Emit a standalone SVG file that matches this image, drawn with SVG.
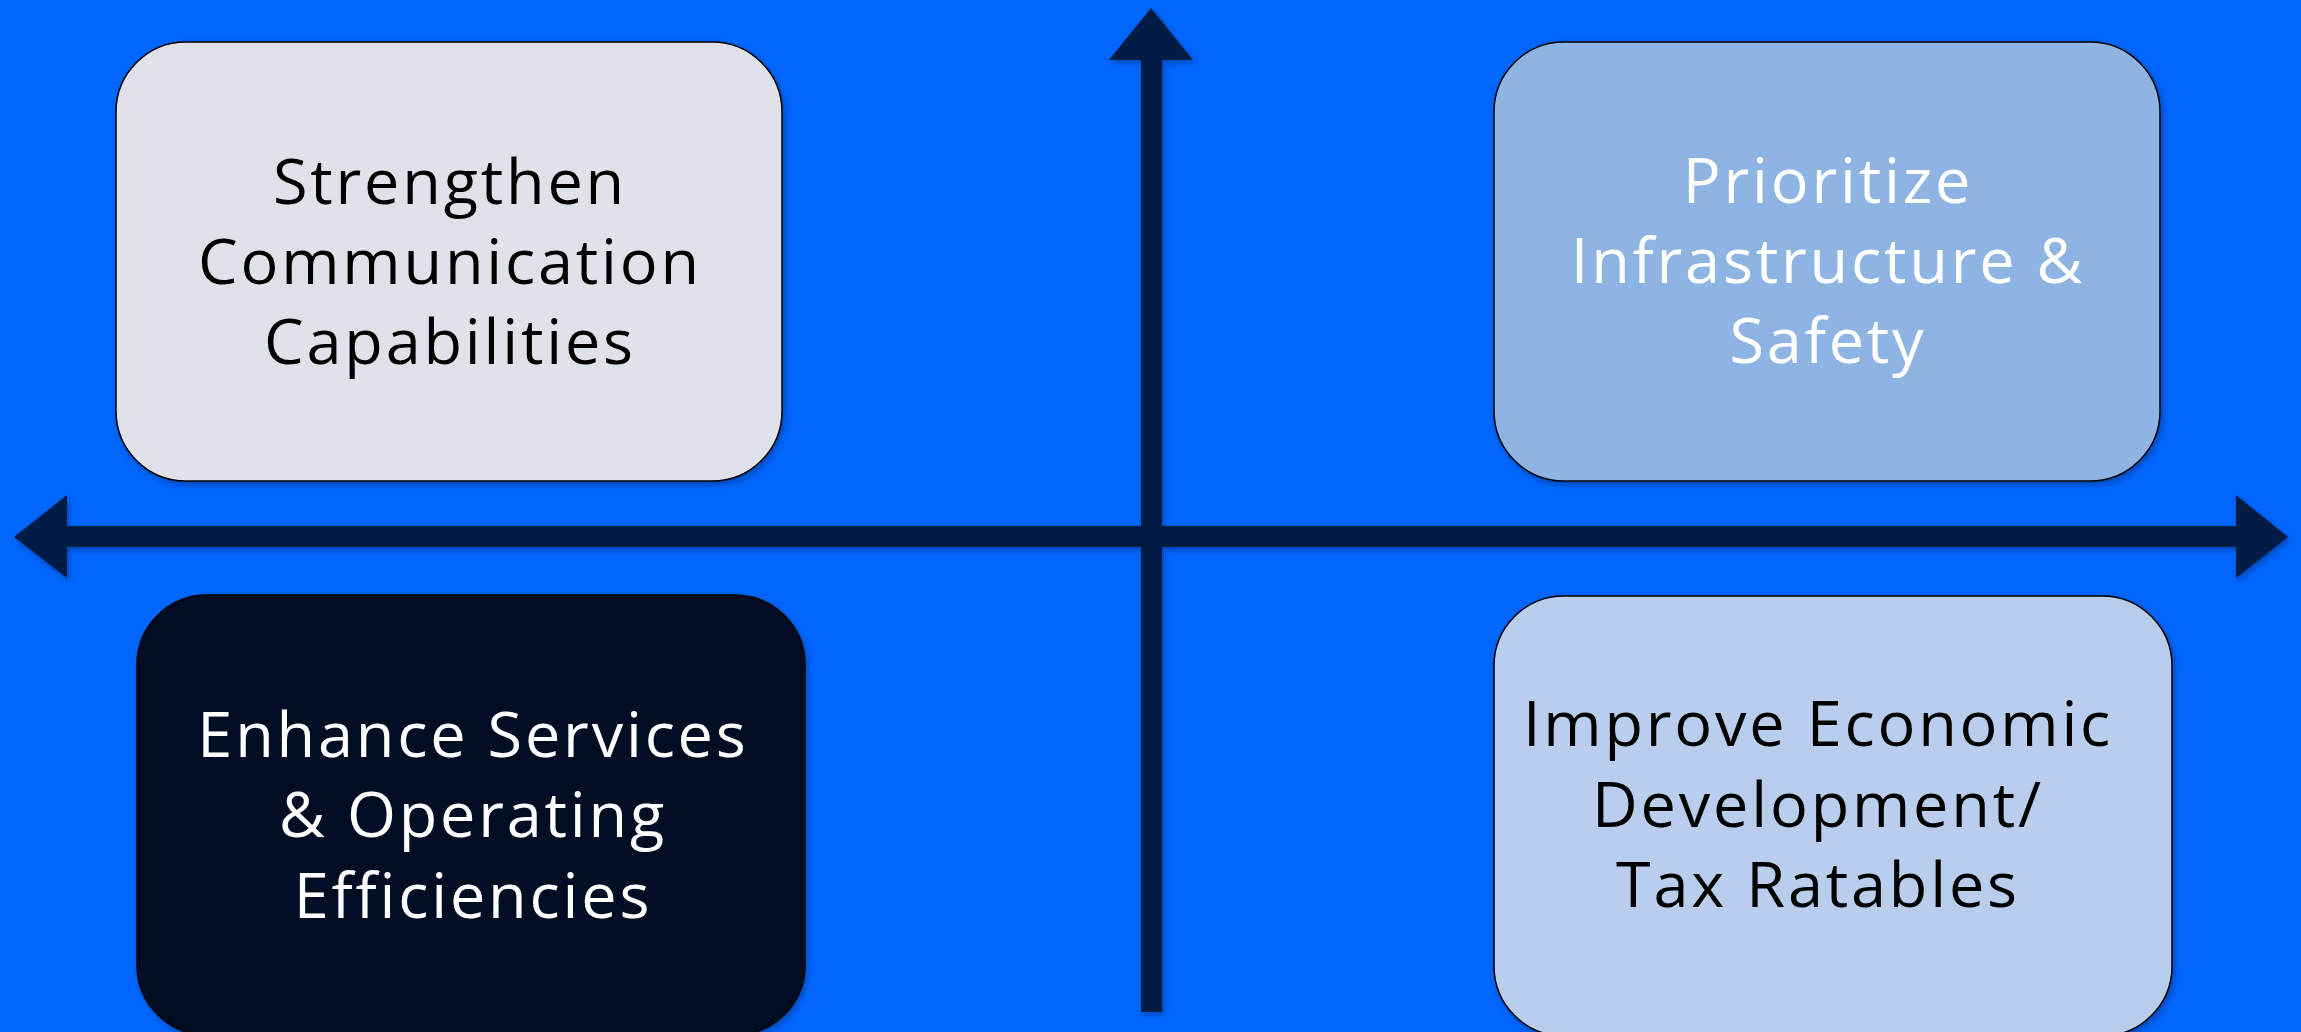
<svg xmlns="http://www.w3.org/2000/svg" width="2301" height="1032" viewBox="0 0 2301 1032">
<defs>
<style>
.box{stroke:#000;stroke-width:1.5}
.t{font-family:"Open Sans","Liberation Sans",sans-serif;font-size:63px;letter-spacing:2.8px;text-anchor:middle}
.dark{fill:#000}
.light{fill:#fff}
.axis{fill:#011C44}
</style>
<filter id="sh" x="-10%" y="-10%" width="120%" height="120%">
<feDropShadow dx="2" dy="3" stdDeviation="3" flood-color="#000" flood-opacity="0.3"/>
</filter>
</defs>
<rect width="2301" height="1032" fill="#0066FF"/>
<g id="connectors" filter="url(#sh)">
<polygon class="axis" points="1151,8 1193,60 1162,60 1162,1012 1141,1012 1141,60 1109,60"/>
<polygon class="axis" points="14,537 67,495 67,526 2236,526 2236,495 2288,537 2236,578 2236,547 67,547 67,578"/>
</g>
<g id="node-communication">
<rect class="box" x="116" y="42" width="666" height="439" rx="70" fill="#DFE3E9" filter="url(#sh)"/>
<text class="t dark" x="450" y="204">Strengthen</text>
<text class="t dark" x="450" y="284">Communication</text>
<text class="t dark" x="450" y="364">Capabilities</text>
</g>
<g id="node-infrastructure">
<rect class="box" x="1494" y="42" width="666" height="439" rx="70" fill="#8EB4E3" filter="url(#sh)"/>
<text class="t light" x="1828" y="203">Prioritize</text>
<text class="t light" x="1828" y="283">Infrastructure &amp;</text>
<text class="t light" x="1828" y="363">Safety</text>
</g>
<g id="node-services">
<rect class="box" x="137" y="595" width="668" height="440" rx="70" fill="#010E21" filter="url(#sh)"/>
<text class="t light" x="473" y="757">Enhance Services</text>
<text class="t light" x="473" y="837">&amp; Operating</text>
<text class="t light" x="473" y="918">Efficiencies</text>
</g>
<g id="node-economic">
<rect class="box" x="1494" y="596" width="678" height="440" rx="70" fill="#B9CEEC" filter="url(#sh)"/>
<text class="t dark" x="1818" y="746">Improve Economic</text>
<text class="t dark" x="1818" y="827">Development/</text>
<text class="t dark" x="1818" y="907">Tax Ratables</text>
</g>
</svg>
